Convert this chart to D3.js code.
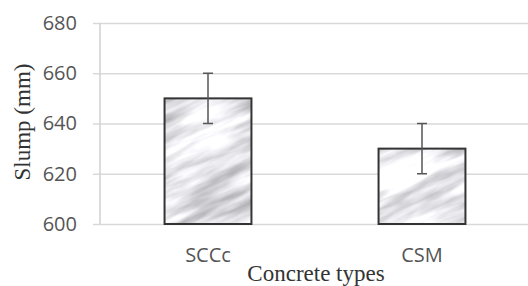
<!DOCTYPE html>
<html>
<head>
<meta charset="utf-8">
<script src="https://cdn.jsdelivr.net/npm/d3@7"></script>
<style>
  html, body { margin: 0; padding: 0; background: #fff; }
  svg { display: block; }
</style>
</head>
<body>
<div id="chart"></div>
<script>
// chart values
var categories = ['SCCc', 'CSM'];
var slump = [650, 630];
var slumpErr = [10, 10];
var yTicks = [600, 620, 640, 660, 680];

var width = 528, height = 286;
var svg = d3.select('#chart').append('svg')
  .attr('width', width).attr('height', height);

var y = d3.scaleLinear().domain([600, 680]).range([224, 23]);
var x = d3.scaleBand().domain(categories).range([101, 529])
  .paddingInner(0.594).paddingOuter(0.297);

// marble-ish fill for the bars (diagonal streaks via a rotated pattern)
var defs = svg.append('defs');
var f = defs.append('filter').attr('id', 'marble')
  .attr('x', 0).attr('y', 0).attr('width', 1).attr('height', 1)
  .attr('color-interpolation-filters', 'sRGB');
f.append('feTurbulence').attr('type', 'fractalNoise')
  .attr('baseFrequency', '0.012 0.07').attr('numOctaves', 4).attr('seed', 3)
  .attr('result', 'noise');
f.append('feColorMatrix').attr('in', 'noise').attr('type', 'matrix')
  .attr('values', '0.75 0 0 0 0.52  0.75 0 0 0 0.52  0.75 0 0 0 0.535  0 0 0 0 1');
var pat = defs.append('pattern').attr('id', 'marbleFill')
  .attr('patternUnits', 'userSpaceOnUse')
  .attr('width', 400).attr('height', 400)
  .attr('patternTransform', 'rotate(-25)');
pat.append('rect').attr('width', 400).attr('height', 400)
  .attr('fill', '#fff').attr('filter', 'url(#marble)');

// gridlines + y tick labels
var yAxis = d3.axisLeft(y).tickValues(yTicks).tickSize(436).tickPadding(16);
var gy = svg.append('g').attr('transform', 'translate(529,0)').call(yAxis);
gy.select('.domain').remove();
gy.selectAll('line').attr('stroke', '#d9d9d9').attr('stroke-width', 1.5);
gy.selectAll('text')
  .attr('font-family', '"Open Sans", sans-serif').attr('font-size', 20)
  .attr('fill', '#555');

// vertical axis line
svg.append('line')
  .attr('x1', 100).attr('x2', 100)
  .attr('y1', y(680)).attr('y2', y(600))
  .attr('stroke', '#d0d0d0').attr('stroke-width', 1.5);

// bars
var bars = svg.append('g').selectAll('g').data(categories).enter().append('g');
bars.append('rect')
  .attr('x', function (d) { return x(d); })
  .attr('y', function (d, i) { return y(slump[i]); })
  .attr('width', x.bandwidth())
  .attr('height', function (d, i) { return y(600) - y(slump[i]); })
  .attr('fill', 'url(#marbleFill)')
  .attr('stroke', '#333').attr('stroke-width', 2);

// error bars
var cx = function (d) { return x(d) + x.bandwidth() / 2; };
bars.append('line')
  .attr('x1', cx).attr('x2', cx)
  .attr('y1', function (d, i) { return y(slump[i] + slumpErr[i]); })
  .attr('y2', function (d, i) { return y(slump[i] - slumpErr[i]); })
  .attr('stroke', '#555').attr('stroke-width', 1.5);
[1, -1].forEach(function (s) {
  bars.append('line')
    .attr('x1', function (d) { return cx(d) - 5; })
    .attr('x2', function (d) { return cx(d) + 5; })
    .attr('y1', function (d, i) { return y(slump[i] + s * slumpErr[i]); })
    .attr('y2', function (d, i) { return y(slump[i] + s * slumpErr[i]); })
    .attr('stroke', '#555').attr('stroke-width', 1.5);
});

// category labels
var xAxis = d3.axisBottom(x).tickSize(0).tickPadding(24);
var gx = svg.append('g').attr('transform', 'translate(0,224)').call(xAxis);
gx.select('.domain').remove();
gx.selectAll('text')
  .attr('font-family', '"Open Sans", sans-serif').attr('font-size', 20)
  .attr('fill', '#555');

// axis titles
svg.append('text')
  .attr('x', 316).attr('y', 281)
  .attr('text-anchor', 'middle')
  .attr('font-family', '"Liberation Serif", serif').attr('font-size', 23)
  .attr('fill', '#333')
  .text('Concrete types');
svg.append('text')
  .attr('transform', 'translate(30,122) rotate(-90)')
  .attr('text-anchor', 'middle')
  .attr('font-family', '"Liberation Serif", serif').attr('font-size', 23)
  .attr('fill', '#333')
  .text('Slump (mm)');
</script>
</body>
</html>
